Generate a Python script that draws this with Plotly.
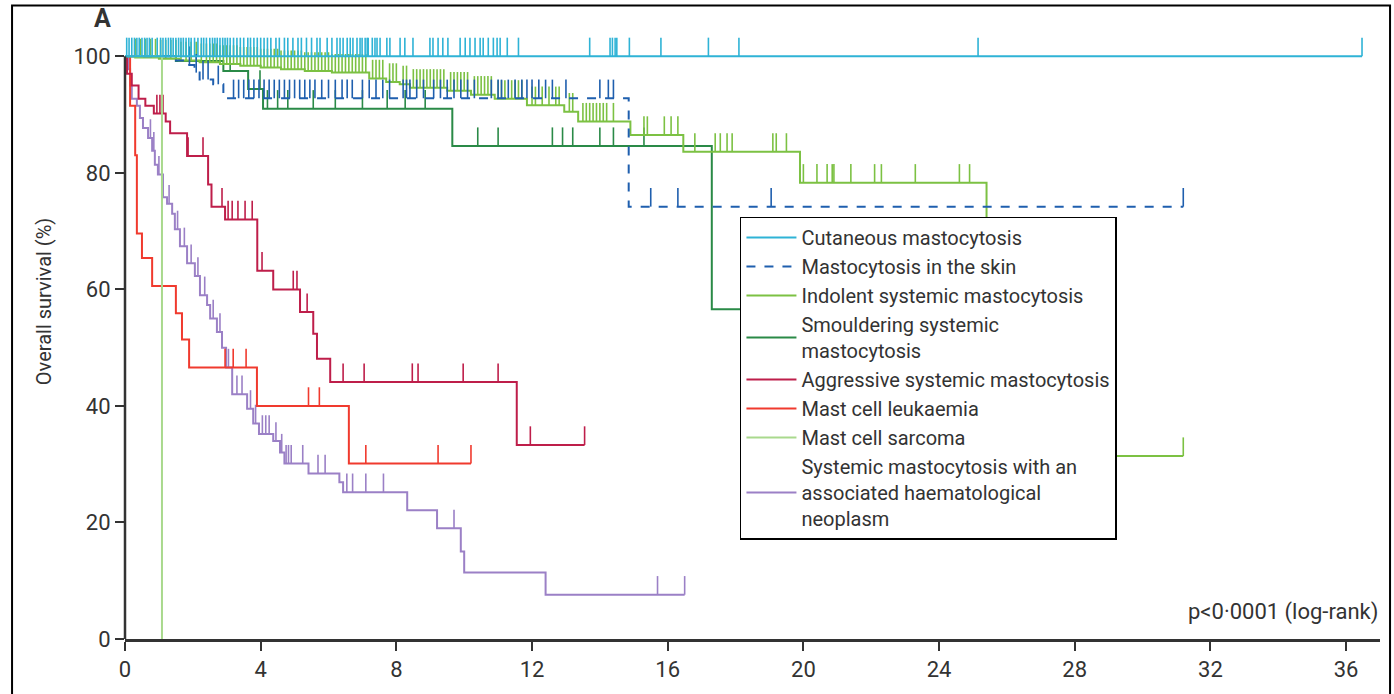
import plotly.graph_objects as go

# ---------------- data (time in years, overall survival in %) ----------------
# Cutaneous mastocytosis
cm_times = []
cm_surv = []
cm_end = 36.47
cm_censor = [0.05, 0.12, 0.2, 0.28, 0.35, 0.42, 0.5, 0.58, 0.65, 0.72, 0.8, 0.95, 1.05, 1.12,
             1.2, 1.28, 1.35, 1.42, 1.5, 1.58, 1.65, 1.72, 1.8, 1.88, 1.95, 2.05, 2.15, 2.25,
             2.32, 2.4, 2.5, 2.58, 2.65, 2.72, 2.8, 2.88, 2.95, 3.02, 3.1, 3.2, 3.3, 3.4, 3.5,
             3.62, 3.7, 3.8, 3.9, 4.0, 4.1, 4.2, 4.3, 4.45, 4.55, 4.7, 4.8, 4.95, 5.1, 5.2,
             5.35, 5.5, 5.66, 5.75, 5.96, 6.1, 6.25, 6.34, 6.43, 6.55, 6.64, 6.72, 6.84, 6.93,
             6.99, 7.08, 7.14, 7.17, 7.29, 7.37, 7.43, 7.52, 7.72, 7.81, 8.11, 8.25, 8.49,
             8.99, 9.08, 9.23, 9.37, 9.52, 9.88, 10.03, 10.17, 10.32, 10.47, 10.56, 10.71,
             10.86, 10.97, 11.06, 11.27, 11.6, 13.7, 14.3, 14.37, 14.45, 14.5, 14.87, 15.8,
             17.2, 18.1, 25.15, 36.47]

# Mastocytosis in the skin
ms_times = [1.3, 1.85, 2.05, 2.2, 2.6, 2.9, 14.85]
ms_surv = [99.3, 98.5, 97.2, 96.0, 95.2, 92.8, 74.2]
ms_end = 31.2
ms_censor = [1.9, 2.1, 2.3, 2.45, 2.75, 3.2, 3.35, 3.5, 3.65, 3.8, 3.95, 4.1, 4.25, 4.4,
             4.55, 4.7, 4.85, 5.0, 5.15, 5.3, 5.45, 5.6, 5.8, 6.0, 6.2, 6.4, 6.55, 6.7, 7.0,
             7.2, 7.4, 7.6, 7.8, 8.2, 8.3, 8.4, 8.6, 8.8, 9.1, 9.3, 9.5, 9.7, 9.9, 10.1, 10.3,
             10.8, 11.0, 11.1, 11.3, 11.5, 11.7, 11.85, 12.0, 12.2, 12.4, 12.6, 13.0, 14.0,
             14.25, 14.4, 15.5, 16.3, 19.05, 31.2]

# Indolent systemic mastocytosis
ism_times = [0.3, 1.0, 1.6, 2.2, 2.8, 3.4, 4.0, 4.6, 5.3, 6.1, 7.2, 7.7, 8.1, 8.4, 9.5,
             10.2, 10.9, 11.85, 12.95, 13.36, 14.9, 16.46, 19.9, 25.4]
ism_surv = [99.8, 99.6, 99.3, 99.0, 98.7, 98.4, 98.1, 97.8, 97.5, 97.2, 96.2, 95.6, 95.2,
            94.6, 94.1, 93.4, 92.7, 91.6, 90.5, 88.8, 86.5, 83.6, 78.3, 31.4]
ism_end = 31.2
ism_censor = [0.3, 0.45, 0.6, 0.75, 0.9, 1.05, 1.2, 1.35, 1.5, 1.65, 1.8, 1.95, 2.1, 2.25,
              2.4, 2.5, 2.6, 2.7, 2.8, 2.9, 3.0, 3.1, 3.2, 3.3, 3.4, 3.5, 3.6, 3.7, 3.8, 3.9,
              4.0, 4.1, 4.2, 4.3, 4.4, 4.5, 4.6, 4.7, 4.8, 4.9, 5.0, 5.1, 5.2, 5.3, 5.4, 5.5,
              5.6, 5.7, 5.8, 5.9, 6.0, 6.1, 6.2, 6.3, 6.4, 6.5, 6.6, 6.7, 6.8, 6.9, 7.0, 7.1,
              7.3, 7.4, 7.5, 7.6, 7.8, 7.9, 8.0, 8.2, 8.3, 8.5, 8.6, 8.7, 8.8, 8.9, 9.0, 9.1,
              9.2, 9.3, 9.4, 9.6, 9.7, 9.8, 9.9, 10.0, 10.1, 10.3, 10.4, 10.5, 10.6, 10.7,
              10.8, 11.0, 11.1, 11.2, 11.4, 11.5, 11.6, 11.7, 12.0, 12.1, 12.3, 12.5, 12.7,
              12.8, 13.1, 13.2, 13.5, 13.6, 13.7, 13.8, 13.9, 14.0, 14.1, 14.2, 14.4, 15.3,
              15.4, 15.9, 16.1, 16.3, 16.8, 17.4, 17.55, 17.75, 17.9, 19.1, 19.2, 19.5, 20.0,
              20.4, 20.7, 20.85, 20.9, 21.4, 22.1, 22.3, 23.3, 24.6, 24.9, 31.2]

# Smouldering systemic mastocytosis
ssm_times = [1.5, 2.9, 3.63, 4.07, 9.65, 17.3]
ssm_surv = [99.2, 97.5, 94.4, 91.0, 84.6, 56.6]
ssm_end = 19.5
ssm_censor = [3.1, 3.98, 4.2, 4.5, 4.8, 5.55, 6.2, 7.0, 7.73, 8.26, 8.85, 10.4, 11.0, 12.6,
              12.9, 13.2, 14.0, 14.4, 15.3]

# Aggressive systemic mastocytosis
asm_times = [0.06, 0.2, 0.4, 0.6, 0.85, 1.2, 1.33, 1.83, 2.45, 2.55, 2.95, 3.9, 4.37, 5.16,
             5.55, 5.66, 6.05, 11.55]
asm_surv = [97.0, 95.0, 92.7, 91.5, 90.2, 88.8, 86.8, 82.9, 78.0, 74.2, 72.0, 63.2, 60.0,
            56.1, 52.4, 48.1, 44.1, 33.3]
asm_end = 13.55
asm_censor = [0.94, 1.03, 1.12, 1.86, 2.3, 2.86, 3.04, 3.16, 3.33, 3.54, 3.75, 4.04, 4.96,
              5.07, 5.37, 6.43, 7.05, 8.47, 8.64, 9.97, 11.0, 11.95, 13.55]

# Mast cell leukaemia
mcl_times = [0.15, 0.3, 0.35, 0.5, 0.8, 1.5, 1.68, 1.89, 3.89, 6.6]
mcl_surv = [91.5, 83.0, 69.6, 65.4, 60.6, 55.9, 51.4, 46.6, 40.0, 30.1]
mcl_end = 10.2
mcl_censor = [2.95, 3.19, 3.57, 5.41, 5.73, 7.1, 9.23, 10.2]

# Mast cell sarcoma
mcs_times = [1.09]
mcs_surv = [0.0]
mcs_end = 1.09
mcs_censor = []

# Systemic mastocytosis with an associated haematological neoplasm
ahn_times = [0.09, 0.15, 0.2, 0.35, 0.44, 0.53, 0.68, 0.8, 0.88, 0.97, 1.12, 1.24, 1.39,
             1.47, 1.62, 1.83, 2.06, 2.21, 2.42, 2.51, 2.71, 2.86, 2.98, 3.16, 3.6, 3.78,
             3.95, 4.37, 4.57, 4.7, 5.41, 6.32, 6.43, 8.32, 9.2, 9.9, 10.0, 12.4]
ahn_surv = [97.8, 95.0, 92.7, 91.5, 89.4, 87.7, 86.0, 83.8, 81.4, 79.7, 75.8, 74.7, 73.0,
            70.3, 67.4, 64.5, 62.3, 59.0, 57.3, 55.0, 52.7, 50.0, 46.6, 42.0, 39.5, 37.0,
            35.2, 34.0, 32.0, 30.1, 28.4, 26.9, 25.2, 22.1, 19.0, 15.0, 11.4, 7.6]
ahn_end = 16.5
ahn_censor = [0.75, 0.85, 1.0, 1.3, 1.55, 1.75, 1.95, 2.15, 2.35, 2.6, 2.8, 3.05, 3.3, 3.45,
              3.7, 3.85, 4.05, 4.15, 4.25, 4.45, 4.62, 4.75, 4.82, 4.9, 5.24, 5.69, 5.9,
              6.54, 6.71, 7.1, 7.62, 9.7, 15.7, 16.5]

x_ticks = [0, 4, 8, 12, 16, 20, 24, 28, 32, 36]
y_ticks = [0, 20, 40, 60, 80, 100]

# ---------------- series table built from the lists ----------------
series = [
    ("Systemic mastocytosis with an<br>associated haematological<br>neoplasm",
     ahn_times, ahn_surv, ahn_end, ahn_censor, "#9b80c6", "solid", 8),
    ("Mast cell leukaemia", mcl_times, mcl_surv, mcl_end, mcl_censor, "#f03a2e", "solid", 6),
    ("Aggressive systemic mastocytosis", asm_times, asm_surv, asm_end, asm_censor, "#be1e4a", "solid", 5),
    ("Smouldering systemic<br>mastocytosis", ssm_times, ssm_surv, ssm_end, ssm_censor, "#2a8a47", "solid", 4),
    ("Indolent systemic mastocytosis", ism_times, ism_surv, ism_end, ism_censor, "#7cc143", "solid", 3),
    ("Mastocytosis in the skin", ms_times, ms_surv, ms_end, ms_censor, "#1f5fae", "dash", 2),
    ("Mast cell sarcoma", mcs_times, mcs_surv, mcs_end, mcs_censor, "#a9d98d", "solid", 7),
    ("Cutaneous mastocytosis", cm_times, cm_surv, cm_end, cm_censor, "#2fb3d6", "solid", 1),
]

TICK_H = 3.2  # censor mark height in % units


def level_at(times, surv, t):
    s = 100.0
    for ti, si in zip(times, surv):
        if ti <= t:
            s = si
    return s


fig = go.Figure()
for name, times, surv, end, censor, color, dash, rank in series:
    xs = [0] + list(times) + [end]
    ys = [100] + list(surv) + [surv[-1] if surv else 100]
    fig.add_trace(go.Scatter(
        x=xs, y=ys, mode="lines", line=dict(color=color, width=2, dash=dash, shape="hv"),
        name=name, legendrank=rank, hoverinfo="skip"))
    if censor:
        cx, cy = [], []
        for t in censor:
            s = level_at(times, surv, t)
            cx += [t, t, None]
            cy += [s, s + TICK_H, None]
        fig.add_trace(go.Scatter(
            x=cx, y=cy, mode="lines", line=dict(color=color, width=1.6),
            showlegend=False, hoverinfo="skip"))

FONT = "Roboto, Open Sans, sans-serif"
TXT = "#333333"

fig.update_layout(
    width=1394, height=694,
    margin=dict(l=125, r=14, t=33, b=45),
    paper_bgcolor="white", plot_bgcolor="white",
    font=dict(family=FONT, size=20, color=TXT),
    showlegend=True,
    legend=dict(
        x=0.49, y=0.697, xanchor="left", yanchor="top",
        bgcolor="white", bordercolor="black", borderwidth=1.5,
        font=dict(family=FONT, size=20, color=TXT),
        itemwidth=50, tracegroupgap=0,
    ),
    xaxis=dict(
        range=[0, 37], tickvals=x_ticks, ticktext=[str(v) for v in x_ticks],
        showline=True, linecolor=TXT, linewidth=2.5, ticks="outside", ticklen=9,
        tickwidth=2, tickcolor=TXT, showgrid=False, zeroline=False,
        tickfont=dict(family=FONT, size=22, color=TXT),
    ),
    yaxis=dict(
        range=[0, 104], tickvals=y_ticks, ticktext=[str(v) for v in y_ticks],
        showline=False, ticks="outside", ticklen=9, tickwidth=2, tickcolor=TXT,
        showgrid=False, zeroline=False,
        tickfont=dict(family=FONT, size=22, color=TXT),
    ),
    shapes=[
        dict(type="line", xref="paper", yref="y", x0=0, x1=0, y0=0, y1=100,
             line=dict(color=TXT, width=2.5), layer="above"),
        dict(type="rect", xref="paper", yref="paper", x0=-0.0900, x1=1.0080,
             y0=-0.12, y1=1.0455, line=dict(color="black", width=2), layer="above"),
    ],
    annotations=[
        dict(text="Overall survival (%)", xref="paper", yref="paper", x=-0.064, y=0.557,
             textangle=-90, showarrow=False, font=dict(family=FONT, size=20, color=TXT),
             xanchor="center", yanchor="middle"),
        dict(text="<b>A</b>", xref="paper", yref="paper", x=-0.018, y=1.024,
             showarrow=False, font=dict(family=FONT, size=25, color=TXT),
             xanchor="center", yanchor="middle"),
        dict(text="p<0·0001 (log-rank)", xref="paper", yref="paper", x=1.0, y=0.045,
             showarrow=False, font=dict(family=FONT, size=22, color=TXT),
             xanchor="right", yanchor="middle"),
    ],
)

fig.write_html("out.html")
